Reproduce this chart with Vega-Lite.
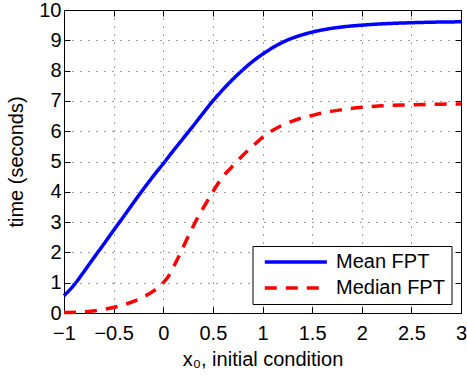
{
  "$schema": "https://vega.github.io/schema/vega-lite/v6.json",
  "width": 397,
  "height": 303,
  "autosize": {"type": "none"},
  "padding": {"left": 64, "top": 10, "right": 6, "bottom": 67},
  "background": "white",
  "config": {
    "font": "Liberation Sans",
    "view": {"stroke": "black", "strokeWidth": 1},
    "axis": {
      "domain": false,
      "grid": true,
      "gridColor": "#000000",
      "gridOpacity": 0.75,
      "gridDash": [1, 7],
      "gridWidth": 1,
      "tickColor": "black",
      "tickSize": -6,
      "tickWidth": 1,
      "labelFont": "Liberation Sans",
      "labelFontSize": 20,
      "labelColor": "black",
      "labelFlush": false,
      "labelOverlap": false,
      "titleFont": "Liberation Sans",
      "titleFontSize": 20,
      "titleFontWeight": "normal",
      "titleColor": "black"
    },
    "legend": {
      "orient": "none",
      "legendX": 188.5,
      "legendY": 236,
      "symbolType": "M-1,0H9",
      "symbolSize": 154,
      "symbolStrokeWidth": 3.5,
      "symbolOffset": 2.5,
      "labelFontSize": 20,
      "labelFont": "Liberation Sans",
      "labelColor": "black",
      "labelOffset": 55,
      "labelExpr": "datum.label + '\u00a0'",
      "strokeColor": "black",
      "strokeWidth": 1,
      "fillColor": "white",
      "padding": 6,
      "rowPadding": 6,
      "cornerRadius": 0
    }
  },
  "data": {
    "values": [
      {"x": -1.0, "y": 0.57, "series": "Mean FPT"},
      {"x": -0.9, "y": 0.92, "series": "Mean FPT"},
      {"x": -0.8, "y": 1.36, "series": "Mean FPT"},
      {"x": -0.7, "y": 1.82, "series": "Mean FPT"},
      {"x": -0.6, "y": 2.27, "series": "Mean FPT"},
      {"x": -0.5, "y": 2.73, "series": "Mean FPT"},
      {"x": -0.4, "y": 3.18, "series": "Mean FPT"},
      {"x": -0.3, "y": 3.64, "series": "Mean FPT"},
      {"x": -0.2, "y": 4.09, "series": "Mean FPT"},
      {"x": -0.1, "y": 4.52, "series": "Mean FPT"},
      {"x": 0.0, "y": 4.93, "series": "Mean FPT"},
      {"x": 0.1, "y": 5.35, "series": "Mean FPT"},
      {"x": 0.2, "y": 5.76, "series": "Mean FPT"},
      {"x": 0.3, "y": 6.17, "series": "Mean FPT"},
      {"x": 0.4, "y": 6.59, "series": "Mean FPT"},
      {"x": 0.5, "y": 7.0, "series": "Mean FPT"},
      {"x": 0.6, "y": 7.37, "series": "Mean FPT"},
      {"x": 0.7, "y": 7.71, "series": "Mean FPT"},
      {"x": 0.8, "y": 8.02, "series": "Mean FPT"},
      {"x": 0.9, "y": 8.3, "series": "Mean FPT"},
      {"x": 1.0, "y": 8.54, "series": "Mean FPT"},
      {"x": 1.1, "y": 8.75, "series": "Mean FPT"},
      {"x": 1.2, "y": 8.93, "series": "Mean FPT"},
      {"x": 1.3, "y": 9.07, "series": "Mean FPT"},
      {"x": 1.4, "y": 9.18, "series": "Mean FPT"},
      {"x": 1.5, "y": 9.27, "series": "Mean FPT"},
      {"x": 1.6, "y": 9.34, "series": "Mean FPT"},
      {"x": 1.8, "y": 9.44, "series": "Mean FPT"},
      {"x": 2.0, "y": 9.5, "series": "Mean FPT"},
      {"x": 2.25, "y": 9.55, "series": "Mean FPT"},
      {"x": 2.5, "y": 9.58, "series": "Mean FPT"},
      {"x": 2.75, "y": 9.6, "series": "Mean FPT"},
      {"x": 3.0, "y": 9.61, "series": "Mean FPT"},
      {"x": -1.0, "y": 0.02, "series": "Median FPT"},
      {"x": -0.8, "y": 0.04, "series": "Median FPT"},
      {"x": -0.6, "y": 0.12, "series": "Median FPT"},
      {"x": -0.4, "y": 0.27, "series": "Median FPT"},
      {"x": -0.2, "y": 0.53, "series": "Median FPT"},
      {"x": -0.1, "y": 0.72, "series": "Median FPT"},
      {"x": 0.0, "y": 1.0, "series": "Median FPT"},
      {"x": 0.05, "y": 1.2, "series": "Median FPT"},
      {"x": 0.1, "y": 1.5, "series": "Median FPT"},
      {"x": 0.15, "y": 1.82, "series": "Median FPT"},
      {"x": 0.2, "y": 2.17, "series": "Median FPT"},
      {"x": 0.25, "y": 2.52, "series": "Median FPT"},
      {"x": 0.3, "y": 2.85, "series": "Median FPT"},
      {"x": 0.35, "y": 3.17, "series": "Median FPT"},
      {"x": 0.4, "y": 3.45, "series": "Median FPT"},
      {"x": 0.5, "y": 4.0, "series": "Median FPT"},
      {"x": 0.6, "y": 4.5, "series": "Median FPT"},
      {"x": 0.7, "y": 4.85, "series": "Median FPT"},
      {"x": 0.8, "y": 5.2, "series": "Median FPT"},
      {"x": 0.9, "y": 5.5, "series": "Median FPT"},
      {"x": 1.0, "y": 5.8, "series": "Median FPT"},
      {"x": 1.1, "y": 6.02, "series": "Median FPT"},
      {"x": 1.2, "y": 6.2, "series": "Median FPT"},
      {"x": 1.3, "y": 6.33, "series": "Median FPT"},
      {"x": 1.4, "y": 6.44, "series": "Median FPT"},
      {"x": 1.5, "y": 6.52, "series": "Median FPT"},
      {"x": 1.6, "y": 6.6, "series": "Median FPT"},
      {"x": 1.8, "y": 6.71, "series": "Median FPT"},
      {"x": 2.0, "y": 6.79, "series": "Median FPT"},
      {"x": 2.2, "y": 6.84, "series": "Median FPT"},
      {"x": 2.5, "y": 6.87, "series": "Median FPT"},
      {"x": 2.75, "y": 6.89, "series": "Median FPT"},
      {"x": 3.0, "y": 6.9, "series": "Median FPT"}
    ]
  },
  "layer": [
    {
      "mark": {"type": "line", "strokeWidth": 3.5, "interpolate": "monotone", "strokeCap": "butt"},
      "encoding": {
        "x": {
          "field": "x", "type": "quantitative",
          "scale": {"domain": [-1, 3], "nice": false, "zero": false},
          "axis": {"values": [-1, -0.5, 0, 0.5, 1, 1.5, 2, 2.5, 3], "format": "~r", "title": "x₀, initial condition", "labelPadding": 16, "titlePadding": 6}
        },
        "y": {
          "field": "y", "type": "quantitative",
          "scale": {"domain": [0, 10], "nice": false},
          "axis": {"values": [0, 1, 2, 3, 4, 5, 6, 7, 8, 9, 10], "format": "~r", "title": "time (seconds)", "labelPadding": 9, "titlePadding": 12}
        },
        "color": {
          "field": "series", "type": "nominal",
          "scale": {"domain": ["Mean FPT", "Median FPT"], "range": ["#0000ff", "#ff0000"]},
          "legend": {"title": null}
        },
        "strokeDash": {
          "field": "series", "type": "nominal",
          "scale": {"domain": ["Mean FPT", "Median FPT"], "range": [[1, 0], [12, 9]]},
          "legend": {"title": null}
        }
      }
    },
    {
      "mark": {"type": "line", "opacity": 0},
      "encoding": {
        "x": {
          "field": "x", "type": "quantitative",
          "scale": {"domain": [-1, 3], "nice": false, "zero": false},
          "axis": {"orient": "top", "values": [-1, -0.5, 0, 0.5, 1, 1.5, 2, 2.5, 3], "labels": false, "grid": false, "title": null}
        },
        "y": {
          "field": "y", "type": "quantitative",
          "scale": {"domain": [0, 10], "nice": false},
          "axis": {"orient": "right", "values": [0, 1, 2, 3, 4, 5, 6, 7, 8, 9, 10], "labels": false, "grid": false, "title": null}
        },
        "detail": {"field": "series", "type": "nominal"}
      }
    }
  ],
  "resolve": {"axis": {"x": "independent", "y": "independent"}}
}
